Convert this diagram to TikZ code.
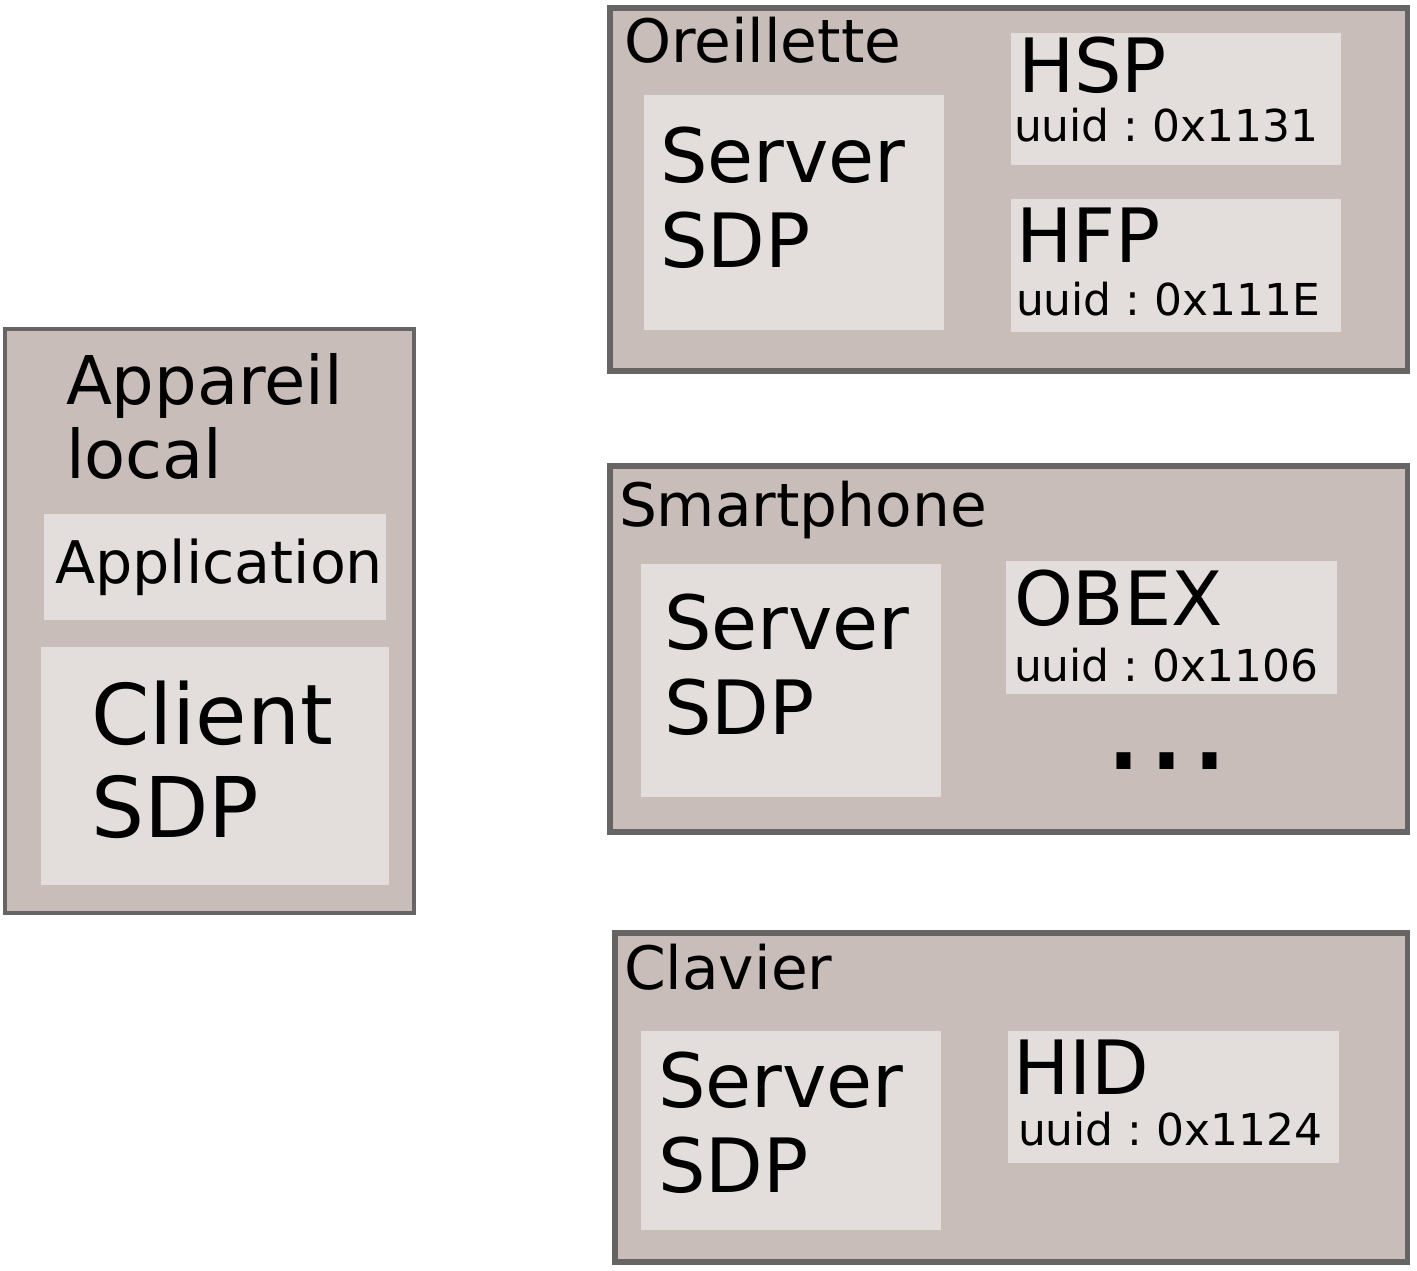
\documentclass[tikz,border=0pt]{standalone}
\usepackage{fontspec}
\setmainfont{DejaVu Sans}
\usepackage{tikz}
\usetikzlibrary{positioning}
\definecolor{devicefill}{RGB}{200, 189, 184}
\definecolor{deviceline}{RGB}{102, 101, 100}
\definecolor{blockfill}{RGB}{227, 222, 219}
\frenchspacing

\begin{document}
\begin{tikzpicture}[
        x=0.01cm, y=-0.01cm,
        device/.style={
            rectangle, draw=deviceline, fill=devicefill, line width=#1,
            anchor=north west, inner sep=0pt, outer sep=0pt,
        },
        device/.default=1.6pt,
        block/.style={
            rectangle, fill=blockfill, anchor=north west,
            inner sep=0pt, outer sep=0pt,
        },
        % base west of a two-line text is the baseline of its last line
        txt/.style={
            anchor=base west, inner sep=0pt, outer sep=0pt,
            align=left, text=black, font=#1,
        },
        devname/.style={txt=\fontsize{17}{20}\selectfont},
        bigtxt/.style={txt=\fontsize{21.3}{24.2}\selectfont},
        uuidtxt/.style={txt=\fontsize{12.5}{14}\selectfont},
    ]
        \useasboundingbox (0,0) rectangle (1417,1271);

        % appareil local
        \node[device=1.2pt, minimum width=4.09cm, minimum height=5.84cm] (local) at (5,329) {};
        \node[block, minimum width=3.42cm, minimum height=1.06cm] (app) at (44,514) {};
        \node[block, minimum width=3.48cm, minimum height=2.38cm] (client) at (41,647) {};
        \node[txt=\fontsize{19.1}{21.1}\selectfont] (local-name) at (66,479) {Appareil\\local};
        \node[txt=\fontsize{16.7}{20}\selectfont] (app-name) at (55,584) {Application};
        \node[txt=\fontsize{23.8}{26.7}\selectfont] (client-name) at (91,838) {Client\\SDP};

        % oreillette
        \node[device, minimum width=7.97cm, minimum height=3.63cm] (oreil) at (610,8) {};
        \node[block, minimum width=3.00cm, minimum height=2.35cm] (oreil-sdp) at (644,95) {};
        \node[block, minimum width=3.30cm, minimum height=1.32cm] (hsp) at (1011,33) {};
        \node[block, minimum width=3.30cm, minimum height=1.33cm] (hfp) at (1011,199) {};
        \node[devname] (oreil-name) at (624,63) {Oreillette};
        \node[bigtxt] (oreil-sdp-name) at (660,268) {Server\\SDP};
        \node[bigtxt] (hsp-name) at (1018,93) {HSP};
        \node[uuidtxt] (hsp-uuid) at (1014,142) {uuid : 0x1131};
        \node[bigtxt] (hfp-name) at (1016,263) {HFP};
        \node[uuidtxt] (hfp-uuid) at (1016,316) {uuid : 0x111E};

        % smartphone
        \node[device, minimum width=7.97cm, minimum height=3.66cm] (phone) at (610,466) {};
        \node[block, minimum width=3.00cm, minimum height=2.33cm] (phone-sdp) at (641,564) {};
        \node[block, minimum width=3.31cm, minimum height=1.33cm] (obex) at (1006,561) {};
        \node[devname] (phone-name) at (619,527) {Smartphone};
        \node[bigtxt] (phone-sdp-name) at (664,735) {Server\\SDP};
        \node[bigtxt] (obex-name) at (1014,626) {OBEX};
        \node[uuidtxt] (obex-uuid) at (1014,682) {uuid : 0x1106};
        \node[txt=\fontsize{38.5}{44}\selectfont, text height=0.3cm, text depth=0pt] (more) at (1102,770) {...};

        % clavier
        \node[device, minimum width=7.92cm, minimum height=3.29cm] (kbd) at (615,933) {};
        \node[block, minimum width=3.00cm, minimum height=1.99cm] (kbd-sdp) at (641,1031) {};
        \node[block, minimum width=3.31cm, minimum height=1.32cm] (hid) at (1008,1031) {};
        \node[devname] (kbd-name) at (624,990) {Clavier};
        \node[bigtxt] (kbd-sdp-name) at (658,1193) {Server\\SDP};
        \node[bigtxt] (hid-name) at (1013,1095) {HID};
        \node[uuidtxt] (hid-uuid) at (1018,1146) {uuid : 0x1124};
    \end{tikzpicture}
\end{document}
